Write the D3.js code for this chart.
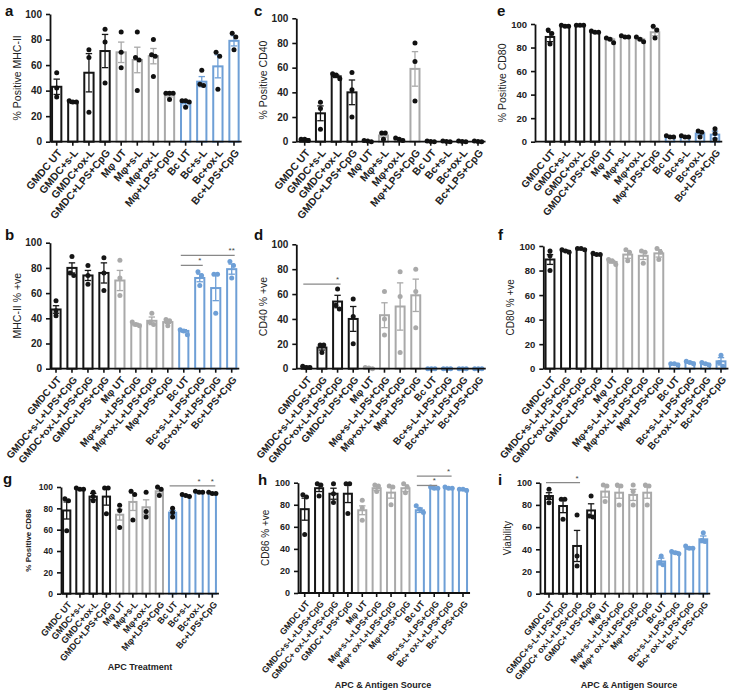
<!DOCTYPE html>
<html><head><meta charset="utf-8">
<script src="https://cdn.jsdelivr.net/npm/d3@7/dist/d3.min.js"></script>
<style>
body{margin:0;background:#fff;}
svg{display:block;font-family:"Liberation Sans",Arial,sans-serif;}
</style></head>
<body><div id="chart"></div>
<script>
// ---------- categories ----------
const catsShort = ["GMDC UT","GMDC+s-L","GMDC+ox-L","GMDC+LPS+CpG","Mφ UT","Mφ+s-L","Mφ+ox-L","Mφ+LPS+CpG","Bc UT","Bc+s-L","Bc+ox-L","Bc+LPS+CpG"];
const catsLong = ["GMDC UT","GMDC+s-L+LPS+CpG","GMDC+ox-L+LPS+CpG","GMDC+LPS+CpG","Mφ UT","Mφ+s-L+LPS+CpG","Mφ+ox-L+LPS+CpG","Mφ+LPS+CpG","Bc UT","Bc+s-L+LPS+CpG","Bc+ox-L+LPS+CpG","Bc+LPS+CpG"];
const catsLong2 = ["GMDC UT","GMDC+s-L+LPS+CpG","GMDC+ ox-L+LPS+CpG","GMDC+ LPS+CpG","Mφ UT","Mφ+s-L+LPS+CpG","Mφ+ ox-L+LPS+CpG","Mφ+LPS+CpG","Bc UT","Bc+s-L+LPS+CpG","Bc+ ox-L+LPS+CpG","Bc+ LPS+CpG"];
const cellGroup = ["GMDC","GMDC","GMDC","GMDC","Mφ","Mφ","Mφ","Mφ","Bc","Bc","Bc","Bc"];
const yTicks = [0,20,40,60,80,100];

// ---------- a: % Positive MHC-II ----------
const meanA = [43,31,54,71,70,64,67,37,30,47,59,79];
const semA  = [6,1,15,13,8,10,6,2,2,4,9,4];
const dotsA = [[54,42,35],[32,31,31],[72,66,23],[88,78,46],[86,70,58],[86,66,64,40],[80,68,67,51],[38,38,38,33],[32,31,32,27],[56,45,44],[70,67,41],[85,82,72]];
// ---------- b: MHC-II % +ve ----------
const meanB = [47,80,74,76,70,35,38,37,30,72,64,79];
const semB  = [3,4,4,8,8,1,3,1,1,3,10,4];
const dotsB = [[54,46,42],[89,76,74],[82,74,67],[88,76,62],[86,72,58],[37,35,34],[44,37,35],[39,38,34],[31,30,27],[77,74,66],[75,75,44],[85,82,72]];
// ---------- c: % Positive CD40 ----------
const meanC = [2,23,53,40,0.5,5,2,59,0.3,0.3,0.3,0.3];
const semC  = [0.5,6,1,10,0.3,1.5,0.6,14,0,0,0,0];
const dotsC = [[2,2,1],[32,27,10],[55,54,51],[56,42,20],[1,0.5,0],[7,7,2],[3,2,1],[80,65,33],[0.5,0,0.2],[0.5,0,0.2],[0.5,0,0.2],[0.5,0,0.2]];
// ---------- d: CD40 % +ve ----------
const meanD = [1.5,17,54,40,0.5,43,50,59,0.2,0.2,0.2,0.2];
const semD  = [0.4,2,5,10,0.3,10,19,13,0,0,0,0];
const dotsD = [[2,1,1],[19,19,13],[64,51,48],[56,42,20],[1,0.5,0],[62,40,27],[78,58,13],[80,62,33],[0,0,0],[0,0,0],[0,0,0],[0,0,0]];
// ---------- e: % Positive CD80 ----------
const meanE = [89,98.5,99,93,87,89,87,93,4,4,7,6];
const semE  = [4,0.5,0.3,0.5,1,0.5,1,3,0.5,0.5,1.5,3];
const dotsE = [[95,92,83],[99,98,98],[99,99,99],[94,93,93],[88,87,84],[90,89,89],[89,87,85],[98,95,88],[5,4,4],[5,4,4],[9,8,4],[11,7,2]];
// ---------- f: CD80 % +ve ----------
const meanF = [89,96,97.5,93,87,93,92,94,4,5,4,6];
const semF  = [4,0.6,0.3,0.5,1,3,3,3,0.3,0.6,0.6,3];
const dotsF = [[96,92,80],[97,96,95],[98,98,97],[94,93,93],[89,88,85],[97,95,88],[96,95,86],[98,95,89],[4,4,3],[6,5,4],[5,4,3],[11,5,2]];
// ---------- g: % Positive CD86 ----------
const meanG = [78,98,91,91,74,86,81,96,76,92,95,94];
const semG  = [8,0.5,3,8,5,8,7,2,2,0.5,0.5,0.5];
const dotsG = [[89,87,59],[99,98,98],[95,91,87],[99,99,75],[83,78,62],[96,93,69],[95,77,72],[100,98,92],[80,76,72],[93,92,91],[96,95,95],[95,94,94]];
// ---------- h: CD86 % +ve ----------
const meanH = [76,95,90,90,75,95,91,95,75,95,95,94];
const semH  = [10,3,5,8,4,2,5,3,2,0.5,0.5,0.3];
const dotsH = [[89,87,53],[99,98,88],[99,90,82],[99,99,72],[84,77,66],[98,97,92],[97,96,80],[99,96,91],[79,76,73],[96,95,95],[96,95,95],[94,94,93]];
// ---------- i: Viability ----------
const meanI = [88,79,43,75,92,91,89,91,29,37,41,49];
const semI  = [3,6,14,6,5,5,5,5,3,1,1,3];
const dotsI = [[94,87,82],[85,85,67],[71,34,25],[88,70,69],[98,97,83],[98,97,80],[98,92,80],[98,97,80],[34,28,26],[38,37,36],[43,41,41],[55,48,47]];

// significance brackets: [fromIndex, toIndex, value, starIndices, starText]
const sigB = [[8,9,82,[9],"*"],[8,11,90,[11],"**"]];
const sigD = [[0,2,68,[2],"*"]];
const sigG = [[8,11,101,[10,11],"*"]];
const sigH = [[8,9,97.5,[9],"*"],[8,10,106,[10],"*"]];
const sigI = [[0,2,100,[2],"*"]];

const COL = {GMDC:"#161616", "Mφ":"#a9a9a9", Bc:"#6e9fd6"};

const W = 730, H = 691;
const svg = d3.select("#chart").append("svg").attr("width",W).attr("height",H);
svg.append("rect").attr("width",W).attr("height",H).attr("fill","#fff");

const panels = [
 {L:"a",lx:5,ly:16,cats:catsShort,mean:meanA,sem:semA,dots:dotsA,ax:50,y100:14,y0:141.7,first:56.7,last:234,title:"% Positive MHC-II",tfs:10.5,tw:"normal",colDots:false,lfs:10.5,yfs:10,sig:[]},
 {L:"c",lx:254,ly:16,cats:catsShort,mean:meanC,sem:semC,dots:dotsC,ax:296.3,y100:18.3,y0:141.7,first:304.7,last:478,title:"% Positive CD40",tfs:10.5,tw:"normal",colDots:false,lfs:10.5,yfs:10,sig:[]},
 {L:"e",lx:497,ly:16,cats:catsShort,mean:meanE,sem:semE,dots:dotsE,ax:535,y100:24,y0:141.7,first:550,last:715,title:"% Positive CD80",tfs:10.5,tw:"normal",colDots:false,lfs:10,yfs:9.5,sig:[]},
 {L:"b",lx:5,ly:240,cats:catsLong,mean:meanB,sem:semB,dots:dotsB,ax:50,y100:242.7,y0:368.7,first:56,last:231.7,title:"MHC-II % +ve",tfs:10.5,tw:"normal",colDots:true,lfs:10,yfs:10,sig:sigB},
 {L:"d",lx:254,ly:240,cats:catsLong,mean:meanD,sem:semD,dots:dotsD,ax:296.3,y100:244.3,y0:368.7,first:306.3,last:478.3,title:"CD40 % +ve",tfs:10.5,tw:"normal",colDots:true,lfs:10,yfs:10,sig:sigD},
 {L:"f",lx:498,ly:240,cats:catsLong,mean:meanF,sem:semF,dots:dotsF,ax:543.3,y100:246,y0:368.7,first:550,last:721,title:"CD80 % +ve",tfs:10,tw:"normal",colDots:true,lfs:10,yfs:9.5,sig:[]},
 {L:"g",lx:3,ly:484,cats:catsShort,mean:meanG,sem:semG,dots:dotsG,ax:61,y100:487,y0:593.7,first:66.7,last:212.3,title:"% Positive CD86",tfs:8,tw:"bold",colDots:false,lfs:9,yfs:8.5,sig:sigG,xt:"APC Treatment",xtx:140,xty:670},
 {L:"h",lx:258,ly:485,cats:catsLong2,mean:meanH,sem:semH,dots:dotsH,ax:298,y100:482.7,y0:593,first:304.7,last:463,title:"CD86 % +ve",tfs:10,tw:"normal",colDots:true,lfs:8.8,yfs:9,sig:sigH,xt:"APC & Antigen Source",xtx:383,xty:688},
 {L:"i",lx:498,ly:485,cats:catsLong2,mean:meanI,sem:semI,dots:dotsI,ax:540,y100:482.7,y0:593.7,first:549,last:703.3,title:"Viability",tfs:10,tw:"normal",colDots:true,lfs:8.8,yfs:9,sig:sigI,xt:"APC & Antigen Source",xtx:629,xty:688}
];

function jitter(vals, ppu){
  const idx = vals.map((v,i)=>i).sort((a,b)=>vals[b]-vals[a]);
  const offs = vals.map(()=>0);
  let cl=[idx[0]];
  const flush=()=>{cl.forEach((k,j)=>offs[k]=(j-(cl.length-1)/2)*3.6);};
  for(let t=1;t<idx.length;t++){
    const k=idx[t], prev=cl[cl.length-1];
    if((vals[prev]-vals[k])*ppu<4) cl.push(k); else {flush(); cl=[k];}
  }
  flush();
  return offs;
}

panels.forEach(p=>{
  const g = svg.append("g");
  const n = p.cats.length;
  const step = (p.last-p.first)/(n-1);
  const x = d3.scaleBand().domain(p.cats).range([p.first-step/2, p.last+step/2]).paddingInner(0.3).paddingOuter(0.15);
  const y = d3.scaleLinear().domain([0,100]).range([p.y0,p.y100]);
  const bw = x.bandwidth();
  const ppu = (p.y0-p.y100)/100;

  // bars
  g.selectAll("rect.bar").data(p.cats).join("rect")
    .attr("x",d=>x(d)+1).attr("width",bw-2)
    .attr("y",(d,i)=>y(p.mean[i])).attr("height",(d,i)=>Math.max(0,y(0)-y(p.mean[i])))
    .attr("fill","#fff").attr("stroke",(d,i)=>COL[cellGroup[i]]).attr("stroke-width",2);

  // error bars
  p.cats.forEach((c,i)=>{
    const cx = x(c)+bw/2, col=COL[cellGroup[i]];
    if(p.sem[i]<=0) return;
    const lo=y(Math.max(0,p.mean[i]-p.sem[i])), hi=y(p.mean[i]+p.sem[i]);
    g.append("line").attr("x1",cx).attr("x2",cx).attr("y1",lo).attr("y2",hi).attr("stroke",col).attr("stroke-width",1.3);
    [lo,hi].forEach(yy=>g.append("line").attr("x1",cx-3.2).attr("x2",cx+3.2).attr("y1",yy).attr("y2",yy).attr("stroke",col).attr("stroke-width",1.3));
  });

  // dots
  p.cats.forEach((c,i)=>{
    const cx = x(c)+bw/2;
    const offs = jitter(p.dots[i],ppu);
    const col = p.colDots ? COL[cellGroup[i]] : "#111";
    g.selectAll(null).data(p.dots[i]).join("circle")
      .attr("cx",(d,j)=>cx+offs[j]).attr("cy",d=>y(d)).attr("r",2.5).attr("fill",col);
  });

  // y axis
  const ya = g.append("g").attr("transform",`translate(${p.ax},0)`)
    .call(d3.axisLeft(y).tickValues(yTicks).tickSize(4).tickSizeOuter(0).tickPadding(4));
  ya.select(".domain").attr("stroke","#111").attr("stroke-width",1.8);
  ya.selectAll(".tick line").attr("stroke","#111").attr("stroke-width",1.6);
  ya.selectAll(".tick text").attr("font-size",p.yfs).attr("font-weight","bold").attr("fill","#222").attr("font-family","Liberation Sans, Arial, sans-serif");

  // x axis
  const xa = g.append("g").attr("transform",`translate(0,${p.y0})`)
    .call(d3.axisBottom(x).tickSize(4).tickSizeOuter(0));
  xa.select(".domain").remove();
  xa.append("line").attr("x1",p.ax).attr("x2",p.last+bw/2+2).attr("y1",0).attr("y2",0).attr("stroke","#111").attr("stroke-width",1.8);
  xa.selectAll(".tick line").attr("stroke","#111").attr("stroke-width",1.6);
  xa.selectAll(".tick text")
    .attr("font-size",p.lfs).attr("font-weight","bold").attr("fill","#222").attr("font-family","Liberation Sans, Arial, sans-serif")
    .attr("text-anchor","end").attr("y",0).attr("dy","0.35em")
    .attr("transform","translate(3,9) rotate(-50)");

  // y title
  g.append("text").attr("transform",`translate(${p.ax-33},${(p.y0+p.y100)/2}) rotate(-90)`)
    .attr("text-anchor","middle").attr("dy","0.35em").attr("font-size",p.tfs).attr("font-weight",p.tw).attr("fill","#222").text(p.title);

  // panel letter
  svg.append("text").attr("x",p.lx).attr("y",p.ly).attr("font-size",15).attr("font-weight","bold").attr("fill","#111").text(p.L);

  // x title
  if(p.xt) svg.append("text").attr("x",p.xtx).attr("y",p.xty).attr("text-anchor","middle").attr("font-size",9).attr("font-weight","bold").attr("fill","#222").text(p.xt);

  // significance
  p.sig.forEach(s=>{
    const [a,b,v,stars,txt]=s;
    const x1=x(p.cats[a])+bw/2, x2=x(p.cats[b])+bw/2, yy=y(v);
    g.append("line").attr("x1",x1-3).attr("x2",x2+3).attr("y1",yy).attr("y2",yy).attr("stroke","#888").attr("stroke-width",1.3);
    stars.forEach(si=>g.append("text").attr("x",x(p.cats[si])+bw/2).attr("y",yy-2).attr("text-anchor","middle").attr("font-size",8).attr("fill","#444").text(txt));
  });
});
</script></body></html>
